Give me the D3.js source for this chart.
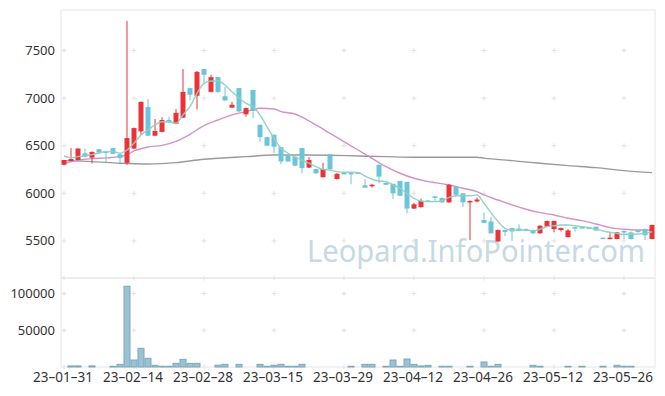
<!DOCTYPE html>
<html>
<head>
<meta charset="utf-8">
<script src="https://cdn.jsdelivr.net/npm/d3@7"></script>
<style>
  body { margin: 0; background: #fff; }
  svg { display: block; font-family: "Noto Sans", sans-serif; }
</style>
</head>
<body>
<div id="chart"></div>
<script>
// trading days shown on the chart
const dates = [
  "23-01-31",
  "23-02-01","23-02-02","23-02-03","23-02-06","23-02-07","23-02-08","23-02-09","23-02-10","23-02-13","23-02-14",
  "23-02-15","23-02-16","23-02-17","23-02-20","23-02-21","23-02-22","23-02-23","23-02-24","23-02-27","23-02-28",
  "23-03-02","23-03-03","23-03-06","23-03-07","23-03-08","23-03-09","23-03-10","23-03-13","23-03-14","23-03-15",
  "23-03-16","23-03-17","23-03-20","23-03-21","23-03-22","23-03-23","23-03-24","23-03-27","23-03-28","23-03-29",
  "23-03-30","23-03-31","23-04-03","23-04-04","23-04-05","23-04-06","23-04-07","23-04-10","23-04-11","23-04-12",
  "23-04-13","23-04-14","23-04-17","23-04-18","23-04-19","23-04-20","23-04-21","23-04-24","23-04-25","23-04-26",
  "23-04-27","23-04-28","23-05-02","23-05-03","23-05-04","23-05-08","23-05-09","23-05-10","23-05-11","23-05-12",
  "23-05-15","23-05-16","23-05-17","23-05-18","23-05-19","23-05-22","23-05-23","23-05-24","23-05-25","23-05-26",
  "23-05-30","23-05-31","23-06-01","23-06-02"
];

const open = [6300,6340,6350,6420,6375,6463,6440,6475,6410,6320, 6470,6650,6905,6605,6645,6770,6730,6795,7105,7025,
  7305,7065,7220,7020,6900,7105,6830,7085,6720,6590, 6615,6485,6400,6385,6475,6270,6255,6170,6410,6150,
  6215,6215,6220,6085,6080,6300,6110,6100,6130,6120, 5840,5855,5925,5968,5950,5905,6070,6000,5905,5915,
  5720,5705,5495,5615,5635,5630,5625,5615,5580,5650, 5625,5615,5540,5645,5645,5642,5650,5535,5520,5520,
  5605,5590,5612,5625,5520];
const high = [6350,6475,6475,6470,6440,6465,6440,6475,6415,7810, 6690,6965,6990,6780,6800,6805,6885,7305,7110,7285,
  7305,7245,7220,7120,6960,7105,6900,7090,6720,6595, 6615,6485,6405,6385,6480,6380,6260,6320,6415,6215,
  6225,6220,6225,6150,6100,6300,6115,6100,6130,6120, 5900,5945,5930,5970,5955,6095,6075,6000,5925,5955,
  5800,5755,5620,5620,5640,5675,5630,5620,5665,5712, 5712,5640,5625,5648,5648,5645,5650,5535,5590,5595,
  5610,5600,5615,5630,5670];
const low = [6295,6335,6345,6375,6315,6425,6315,6410,6315,6300, 6465,6610,6600,6600,6640,6740,6725,6790,6980,6880,
  7155,7060,7055,6970,6895,6855,6805,6790,6545,6495, 6425,6305,6330,6285,6210,6265,6205,6165,6250,6145,
  6205,6095,6210,6055,6060,6105,6085,5940,5970,5790, 5835,5850,5915,5915,5900,5900,5965,5855,5510,5905,
  5690,5580,5490,5550,5500,5600,5600,5575,5575,5648, 5590,5600,5538,5598,5635,5635,5605,5528,5518,5518,
  5520,5515,5590,5510,5518];
const close = [6350,6360,6470,6385,6435,6428,6432,6415,6370,6580, 6685,6960,6605,6655,6770,6745,6845,7065,7035,7275,
  7245,7220,7065,6975,6930,6860,6895,6865,6590,6500, 6490,6335,6335,6290,6265,6350,6210,6255,6255,6205,
  6205,6205,6215,6060,6090,6175,6090,6000,5975,5840, 5885,5920,5920,5962,5905,6090,5985,5905,5920,5935,
  5690,5580,5615,5595,5600,5605,5605,5580,5660,5710, 5710,5635,5610,5640,5638,5638,5610,5528,5535,5590,
  5590,5520,5592,5560,5668];
const volume = [0,1500,1500,0,1500,0,0,1000,3600,110000, 9500,25400,11800,2300,1000,1000,5000,10400,5000,5000,
  0,0,2500,3600,0,3600,0,0,3600,1000, 2300,3600,1000,1000,3600,0,0,0,0,0,
  0,1000,0,3600,3600,0,1000,9500,1000,10900, 3600,1400,2300,0,1000,1000,0,0,1000,0,
  6800,1000,3600,0,0,0,0,2300,1000,0, 0,0,1000,0,1000,0,0,1000,0,2300,
  1000,1000,0,0,0];

// moving averages
const ma5 = [6392,6374,6385,6395,6406,6424,6438,6438,6421,6455, 6526,6613,6665,6718,6752,6752,6735,6823,6910,7050,
  7155,7180,7180,7138,7067,7004,6944,6910,6823,6700, 6578,6473,6421,6379,6350,6316,6280,6252,6245,6228,
  6221,6221,6217,6182,6148,6130,6123,6088,6053,6000, 5948,5920,5913,5913,5920,5958,5975,5975,5975,5983,
  5896,5797,5703,5633,5615,5615,5615,5608,5623,5650, 5660,5668,5668,5660,5650,5640,5623,5605,5591,5580,
  5570,5570,5573,5580,5597];
const ma20At = [0,2,4,6,8,9,10,12,14,16,18,20,22,24,26,28,30,31,33,34,36,38,40,42,44,46,48,50,52,53,55,57,59,60,62,64,66,68,70,72,74,76,78,80,82,84];
const ma20 = [6316,6347,6364,6372,6385,6405,6445,6487,6504,6546,6620,6712,6770,6823,6858,6893,6886,6858,6833,6800,6718,6630,6543,6455,6368,6280,6211,6158,6123,6112,6088,6053,6018,5983,5930,5878,5833,5797,5773,5738,5713,5678,5640,5623,5615,5615];
const ma60At = [0,4,8,12,16,20,22,26,30,34,38,42,46,50,53,59,60,64,68,72,76,80,84];
const ma60 = [6343,6333,6316,6308,6322,6358,6368,6385,6403,6403,6400,6392,6385,6379,6379,6379,6370,6343,6316,6291,6270,6238,6217];

const priceTicks = [5500, 6000, 6500, 7000, 7500];
const volumeTicks = [50000, 100000];

const width = 665, height = 396;
const left = 61, right = 655;
const mainTop = 10, mainBottom = 278, volBottom = 367;

const svg = d3.select("#chart").append("svg")
  .attr("width", width)
  .attr("height", height);

const x = d3.scaleBand()
  .domain(d3.range(dates.length))
  .range([60.5, 655.5]);
const cx = i => x(i) + x.bandwidth() / 2;

const y = d3.scaleLinear().domain([5111, 7925]).range([mainBottom, mainTop]);
const yv = d3.scaleLinear().domain([0, 121200]).range([volBottom, mainBottom]);

// panel frames
svg.append("rect")
  .attr("x", left).attr("y", mainTop)
  .attr("width", right - left).attr("height", mainBottom - mainTop)
  .attr("fill", "none").attr("stroke", "#e6e6e6");
svg.append("rect")
  .attr("x", left).attr("y", mainBottom)
  .attr("width", right - left).attr("height", volBottom - mainBottom)
  .attr("fill", "none").attr("stroke", "#e6e6e6");

// little + marks instead of grid lines
const xTickIdx = d3.range(0, dates.length, 10);
const crossYs = priceTicks.map(y).concat(volumeTicks.map(yv));
const crosses = svg.append("g").attr("stroke", "#e2e2e2").attr("stroke-width", 1);
xTickIdx.forEach(i => {
  crossYs.forEach(cy => {
    crosses.append("line").attr("x1", cx(i) - 2.5).attr("x2", cx(i) + 2.5).attr("y1", cy).attr("y2", cy);
    crosses.append("line").attr("x1", cx(i)).attr("x2", cx(i)).attr("y1", cy - 2.5).attr("y2", cy + 2.5);
  });
  [mainBottom, volBottom].forEach(cy => {
    crosses.append("line").attr("x1", cx(i)).attr("x2", cx(i)).attr("y1", cy - 2.5).attr("y2", cy + 2.5);
  });
});

// watermark
svg.append("text")
  .attr("x", 307).attr("y", 262)
  .attr("textLength", 338).attr("lengthAdjust", "spacingAndGlyphs")
  .attr("font-size", 31)
  .attr("fill", "#c6d9e5")
  .text("Leopard.InfoPointer.com");

// moving average lines
const line = d3.line().curve(d3.curveMonotoneX);
svg.append("path")
  .attr("d", line(ma60At.map((i, k) => [cx(i), y(ma60[k])])))
  .attr("fill", "none").attr("stroke", "#9a9a9a").attr("stroke-width", 1.4);
svg.append("path")
  .attr("d", line(ma20At.map((i, k) => [cx(i), y(ma20[k])])))
  .attr("fill", "none").attr("stroke", "#d291c9").attr("stroke-width", 1.4);

// candles
const up = "#ec3237", down = "#6cc4da";
const candles = svg.append("g");
dates.forEach((d, i) => {
  const col = close[i] >= open[i] ? up : down;
  candles.append("line")
    .attr("x1", cx(i)).attr("x2", cx(i))
    .attr("y1", y(high[i])).attr("y2", y(low[i]))
    .attr("stroke", col).attr("stroke-width", 1);
  const top = y(Math.max(open[i], close[i]));
  const h = Math.max(1.5, y(Math.min(open[i], close[i])) - top);
  candles.append("rect")
    .attr("x", cx(i) - 2.5).attr("y", top)
    .attr("width", 5).attr("height", h)
    .attr("fill", col);
});

svg.append("path")
  .attr("d", line(ma5.map((v, i) => [cx(i), y(v)])))
  .attr("fill", "none").attr("stroke", "#8fd0c2").attr("stroke-width", 1.4).attr("stroke-opacity", 0.95);

// volume bars (skip empty days)
const volDays = d3.range(volume.length).filter(i => volume[i] > 0);
svg.append("g").selectAll("rect")
  .data(volDays)
  .join("rect")
  .attr("x", i => x(i) + 0.5)
  .attr("y", i => yv(volume[i]))
  .attr("width", x.bandwidth() - 1)
  .attr("height", i => volBottom - yv(volume[i]))
  .attr("fill", "#9bc2d2")
  .attr("stroke", "#78a8bd")
  .attr("stroke-width", 1);

// axis labels
svg.append("g").selectAll("text")
  .data(priceTicks)
  .join("text")
  .attr("x", 55).attr("y", d => y(d) + 4.5)
  .attr("text-anchor", "end")
  .attr("font-size", 13).attr("fill", "#333")
  .text(d => d);

svg.append("g").selectAll("text")
  .data(volumeTicks)
  .join("text")
  .attr("x", 55).attr("y", d => yv(d) + 4.5)
  .attr("text-anchor", "end")
  .attr("font-size", 13).attr("fill", "#333")
  .text(d => d);

svg.append("g").selectAll("text")
  .data(xTickIdx)
  .join("text")
  .attr("x", i => cx(i) - 1).attr("y", 382)
  .attr("text-anchor", "middle")
  .attr("font-size", 13.5).attr("fill", "#333")
  .text(i => dates[i].replace(/-/g, "\u2013"));
</script>
</body>
</html>
